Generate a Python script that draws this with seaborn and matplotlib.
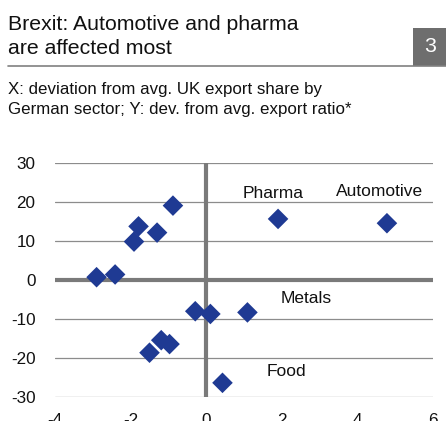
import matplotlib
matplotlib.use("Agg")
import matplotlib.pyplot as plt
import numpy as np
import pandas as pd
import seaborn as sns
from matplotlib.patches import Rectangle
from matplotlib.lines import Line2D

# values
uk_share_dev = [-2.90, -2.41, -1.91, -1.79, -1.30, -0.88, 1.90, 4.78,
                -0.29, 0.11, 1.09, -1.19, -0.97, -1.50, 0.43]
export_ratio_dev = [0.7, 1.4, 9.8, 13.7, 12.1, 19.0, 15.6, 14.5,
                    -8.0, -8.7, -8.3, -15.4, -16.4, -18.6, -26.3]
label_text = ["Pharma", "Automotive", "Metals", "Food"]
label_x = [1.77, 4.58, 2.64, 2.11]
label_y = [22.0, 22.5, -4.7, -23.5]
x_ticks = [-4, -2, 0, 2, 4, 6]
y_ticks = [-30, -20, -10, 0, 10, 20, 30]

df = pd.DataFrame({"x": uk_share_dev, "y": export_ratio_dev})

sns.set_style("white")
plt.rcParams["font.family"] = ["Liberation Sans", "DejaVu Sans"]
plt.rcParams["axes.unicode_minus"] = False

fig = plt.figure(figsize=(4.46, 4.21), dpi=100)
ax = fig.add_axes([0.1233, 0.0563, 0.8477, 0.5575])

for yv in y_ticks:
    if yv != 0:
        ax.axhline(yv, color="#8c8c8c", lw=0.9, zorder=1)
ax.axhline(0, color="#7a7a7a", lw=3, zorder=2)
ax.axvline(0, color="#7a7a7a", lw=3, zorder=2)

sns.scatterplot(data=df, x="x", y="y", marker="D", s=110, color="#1f3a93",
                edgecolor="none", ax=ax, zorder=3)

for t, lx, ly in zip(label_text, label_x, label_y):
    ax.text(lx, ly, t, ha="center", va="center", fontsize=12.5, color="#111111")

ax.set_xlim(-4, 6)
ax.set_ylim(-30, 30)
ax.set_xticks(x_ticks)
ax.set_yticks(y_ticks)
ax.set_xlabel("")
ax.set_ylabel("")
ax.tick_params(axis="both", length=0, labelsize=12.3, colors="#111111")
ax.tick_params(axis="x", pad=11)
ax.tick_params(axis="y", pad=14)
sns.despine(ax=ax, left=True, bottom=True)

# header
fig.text(8 / 446, 1 - 30 / 421, "Brexit: Automotive and pharma", fontsize=15.3,
         color="#111111", va="baseline")
fig.text(8 / 446, 1 - 54 / 421, "are affected most", fontsize=15.3,
         color="#111111", va="baseline")
fig.add_artist(Line2D([8 / 446, 1.0], [1 - 66 / 421, 1 - 66 / 421],
                      color="#808080", lw=1.2, transform=fig.transFigure))
fig.add_artist(Rectangle((413 / 446, 1 - 66 / 421), 33 / 446, 38 / 421,
                         facecolor="#6e6e6e", linewidth=0,
                         transform=fig.transFigure))
fig.text(430 / 446, 1 - 46 / 421, "3", fontsize=15.3, color="white",
         ha="center", va="center")
fig.text(8 / 446, 1 - 94 / 421, "X: deviation from avg. UK export share by",
         fontsize=12.2, color="#111111", va="baseline")
fig.text(8 / 446, 1 - 114 / 421, "German sector; Y: dev. from avg. export ratio*",
         fontsize=12.2, color="#111111", va="baseline")

fig.savefig("out.png", dpi=100)
